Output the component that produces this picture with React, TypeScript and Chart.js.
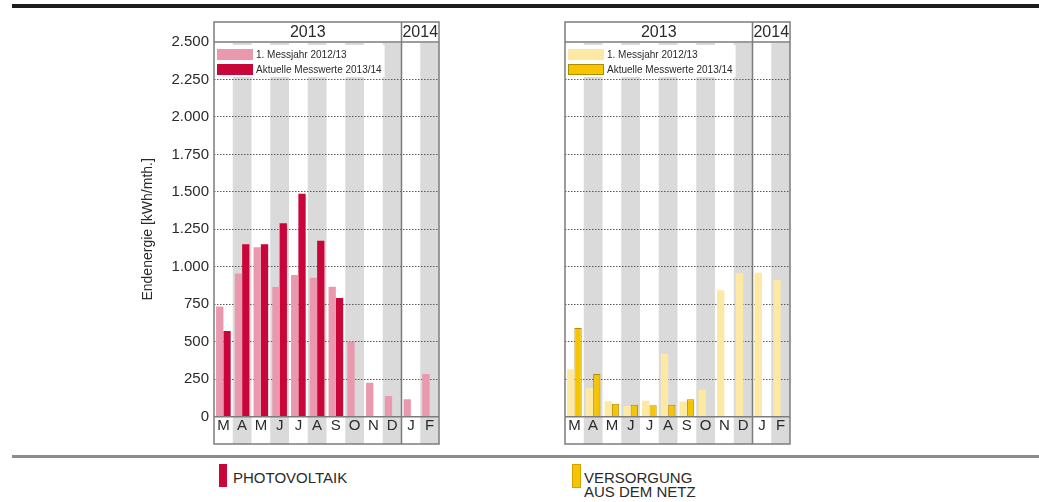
import React, { useEffect, useRef } from 'react';
import { Chart, registerables } from 'chart.js';

Chart.register(...registerables);

// Month categories (March 2013 – February 2014)
const months = ['M', 'A', 'M', 'J', 'J', 'A', 'S', 'O', 'N', 'D', 'J', 'F'];
// Year header sections: label and index of first month in each
const yearLabels = ['2013', '2014'];
const yearStartIndex = [0, 10];

// Y scale
const yMax = 2500;
const yStep = 250;

// Series labels
const seriesPrevLabel = '1. Messjahr 2012/13';
const seriesCurrLabel = 'Aktuelle Messwerte 2013/14';

// Photovoltaik, kWh per month
const pvFirstYear = [735, 955, 1130, 865, 945, 927, 867, 500, 227, 138, 116, 285];
const pvCurrent = [572, 1150, 1150, 1290, 1488, 1174, 792, null, null, null, null, null];

// Versorgung aus dem Netz, kWh per month
const gridFirstYear = [316, 190, 103, 71, 106, 420, 102, 180, 843, 957, 961, 912];
const gridCurrent = [592, 285, 87, 80, 76, 80, 116, null, null, null, null, null];

const FONT = '"Liberation Sans", Arial, Helvetica, sans-serif';
const TEXT = '#2a2a2a';
const FRAME = '#7c7c7c';
const STRIPE = '#dadada';

const formatThousands = (v: number) =>
  String(Math.round(v)).replace(/\B(?=(\d{3})+(?!\d))/g, '.');

// Draws column stripes, the inner legend box, the year header and the frame
const panelPlugin = {
  id: 'panelFrame',
  beforeDraw(chart: any) {
    const { ctx, chartArea } = chart;
    const x = chart.scales.x;
    const slot = (chartArea.right - chartArea.left) / months.length;
    ctx.save();
    ctx.fillStyle = STRIPE;
    months.forEach((_, i) => {
      if (i % 2 === 1) {
        const cx = x.getPixelForValue(i);
        ctx.fillRect(cx - slot / 2, chartArea.top + 1, slot, x.bottom - chartArea.top - 1);
      }
    });
    ctx.restore();
  },
  beforeDatasetsDraw(chart: any) {
    const { ctx, chartArea } = chart;
    const datasets = chart.data.datasets;
    const l = chartArea.left + 1;
    const t = chartArea.top + 3;
    ctx.save();
    ctx.font = `10px ${FONT}`;
    const textX = l + 41;
    let w = 0;
    datasets.forEach((ds: any) => {
      w = Math.max(w, ctx.measureText(ds.label).width);
    });
    ctx.fillStyle = '#ffffff';
    ctx.fillRect(l, t, textX + w + 3 - l, 32);
    datasets.forEach((ds: any, i: number) => {
      const sy = t + 4 + i * 15;
      ctx.fillStyle = ds.backgroundColor;
      ctx.fillRect(l + 2, sy, 36, 11);
      if (ds.borderWidth) {
        ctx.strokeStyle = ds.borderColor;
        ctx.lineWidth = 1;
        ctx.strokeRect(l + 2.5, sy + 0.5, 35, 10);
      }
      ctx.fillStyle = TEXT;
      ctx.textBaseline = 'middle';
      ctx.textAlign = 'left';
      ctx.fillText(ds.label, textX, sy + 6);
    });
    ctx.restore();
  },
  afterDraw(chart: any) {
    const { ctx, chartArea } = chart;
    const x = chart.scales.x;
    const slot = (chartArea.right - chartArea.left) / months.length;
    const headTop = chartArea.top - 20;
    const bottom = x.bottom;
    ctx.save();
    ctx.strokeStyle = FRAME;
    ctx.lineWidth = 1.5;
    ctx.strokeRect(chartArea.left, headTop, chartArea.right - chartArea.left, bottom - headTop);
    ctx.beginPath();
    ctx.moveTo(chartArea.left, chartArea.top);
    ctx.lineTo(chartArea.right, chartArea.top);
    ctx.moveTo(chartArea.left, chartArea.bottom);
    ctx.lineTo(chartArea.right, chartArea.bottom);
    yearStartIndex.forEach((start) => {
      if (start > 0) {
        const dx = x.getPixelForValue(start) - slot / 2;
        ctx.moveTo(dx, headTop);
        ctx.lineTo(dx, bottom);
      }
    });
    ctx.stroke();
    ctx.fillStyle = TEXT;
    ctx.font = `16px ${FONT}`;
    ctx.textAlign = 'center';
    ctx.textBaseline = 'middle';
    yearLabels.forEach((label, k) => {
      const s = yearStartIndex[k];
      const e = k + 1 < yearStartIndex.length ? yearStartIndex[k + 1] : months.length;
      const x0 = x.getPixelForValue(s) - slot / 2;
      const x1 = x.getPixelForValue(e - 1) + slot / 2;
      ctx.fillText(label, (x0 + x1) / 2, (headTop + chartArea.top) / 2 + 1);
    });
    ctx.restore();
  },
};

type PanelProps = {
  left: number;
  showAxis: boolean;
  prev: (number | null)[];
  curr: (number | null)[];
  prevColor: string;
  currColor: string;
  currBorder?: string;
};

function Panel({ left, showAxis, prev, curr, prevColor, currColor, currBorder }: PanelProps) {
  const ref = useRef<HTMLCanvasElement>(null);

  useEffect(() => {
    if (!ref.current) return;
    const chart = new Chart(ref.current, {
      type: 'bar',
      data: {
        labels: months,
        datasets: [
          {
            label: seriesPrevLabel,
            data: prev,
            backgroundColor: prevColor,
            borderWidth: 0,
            categoryPercentage: 0.78,
            barPercentage: 1,
          },
          {
            label: seriesCurrLabel,
            data: curr,
            backgroundColor: currColor,
            borderColor: currBorder || currColor,
            borderWidth: currBorder ? 1 : 0,
            categoryPercentage: 0.78,
            barPercentage: 1,
          },
        ],
      },
      options: {
        responsive: false,
        animation: false,
        devicePixelRatio: 1,
        layout: { padding: { top: 42, right: 11, left: 0, bottom: 6 } },
        plugins: {
          legend: { display: false },
          tooltip: { enabled: false },
        },
        scales: {
          x: {
            grid: { display: false, drawTicks: false },
            border: { display: false },
            ticks: {
              color: TEXT,
              font: { size: 15, family: FONT },
              padding: 0,
              maxRotation: 0,
              autoSkip: false,
            },
            afterFit: (s: any) => {
              s.height = 27.3;
            },
          },
          y: {
            min: 0,
            max: yMax,
            ticks: {
              display: showAxis,
              stepSize: yStep,
              color: TEXT,
              font: { size: 15, family: FONT },
              padding: 5,
              callback: (v: any) => formatThousands(Number(v)),
            },
            grid: {
              drawTicks: false,
              lineWidth: 1,
              color: (c: any) =>
                c.tick && (c.tick.value === 0 || c.tick.value === yMax) ? 'rgba(0,0,0,0)' : '#5a5a5a',
            },
            border: { display: false, dash: [1.5, 1.5] },
            title: {
              display: showAxis,
              text: 'Endenergie [kWh/mth.]',
              color: TEXT,
              font: { size: 14, family: FONT },
              padding: { top: 9.6, bottom: 0 },
            },
            afterFit: (s: any) => {
              s.width = 84;
            },
          },
        },
      },
      plugins: [panelPlugin],
    } as any);
    return () => chart.destroy();
  }, []);

  return (
    <canvas
      ref={ref}
      width={320}
      height={450}
      style={{ position: 'absolute', left, top: 0, width: 320, height: 450 }}
    />
  );
}

export default function App() {
  return (
    <div
      style={{
        position: 'absolute',
        left: 0,
        top: 0,
        width: 1039,
        height: 502,
        background: '#ffffff',
        fontFamily: FONT,
        color: TEXT,
        overflow: 'hidden',
      }}
    >
      <div style={{ position: 'absolute', left: 12, top: 4, width: 1027, height: 4, background: '#1c1c1c' }} />
      <Panel
        left={130}
        showAxis={true}
        prev={pvFirstYear}
        curr={pvCurrent}
        prevColor="#ea98ae"
        currColor="#c8063a"
      />
      <Panel
        left={481}
        showAxis={false}
        prev={gridFirstYear}
        curr={gridCurrent}
        prevColor="#fde9a3"
        currColor="#f6c400"
        currBorder="#b08a00"
      />
      <div style={{ position: 'absolute', left: 12, top: 455, width: 1027, height: 3, background: '#8c8c8c' }} />
      <div style={{ position: 'absolute', left: 219, top: 464, width: 8, height: 23, background: '#c8063a' }} />
      <div style={{ position: 'absolute', left: 233, top: 471, fontSize: 15, lineHeight: '14px' }}>PHOTOVOLTAIK</div>
      <div
        style={{
          position: 'absolute',
          left: 572,
          top: 464,
          width: 7,
          height: 22,
          background: '#f6c400',
          border: '0.5px solid #d1a400',
        }}
      />
      <div style={{ position: 'absolute', left: 584, top: 471, fontSize: 15, lineHeight: '14px' }}>
        VERSORGUNG
        <br />
        AUS DEM NETZ
      </div>
    </div>
  );
}
